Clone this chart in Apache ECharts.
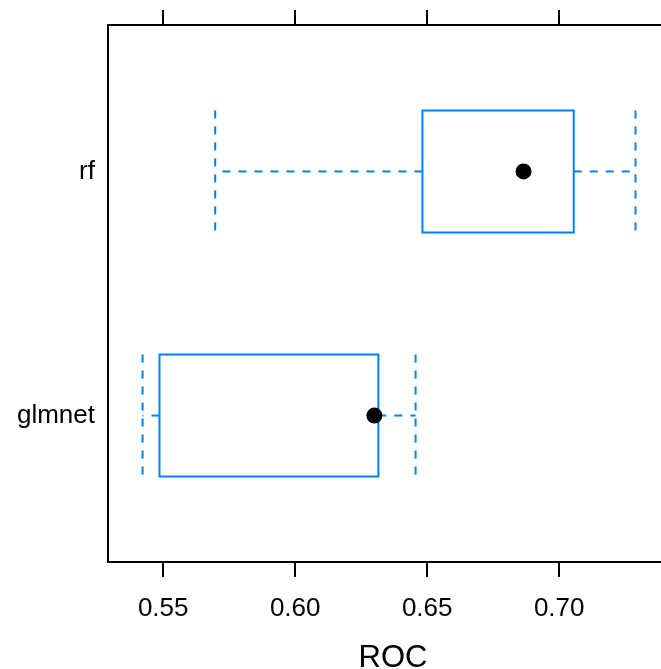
<!DOCTYPE html>
<html>
<head>
<meta charset="utf-8">
<script src="https://cdn.jsdelivr.net/npm/echarts@6/dist/echarts.min.js"></script>
<style>
  html, body { margin: 0; padding: 0; background: #fff; }
  #chart { width: 661px; height: 669px; }
</style>
</head>
<body>
<div id="chart"></div>
<script>
// resample summaries (bwplot of ROC)
const models = ['glmnet', 'rf'];
const minVals = [0.5422, 0.5697];
const q1Vals = [0.5486, 0.6482];
const medVals = [0.6300, 0.6865];
const q3Vals = [0.6315, 0.7055];
const maxVals = [0.6456, 0.7289];
const xTicks = [0.55, 0.60, 0.65, 0.70];

const boxColor = '#0080ff';

const data = models.map((m, i) => [i + 1, minVals[i], q1Vals[i], medVals[i], q3Vals[i], maxVals[i]]);

function renderBox(params, api) {
  const y = api.value(0);
  const lo = api.coord([api.value(1), y]);
  const q1 = api.coord([api.value(2), y]);
  const med = api.coord([api.value(3), y]);
  const q3 = api.coord([api.value(4), y]);
  const hi = api.coord([api.value(5), y]);
  const h = api.size([0, 0.25])[1];
  const cy = q1[1];
  const dash = { stroke: boxColor, lineWidth: 2, lineDash: [8, 8], fill: null };
  return {
    type: 'group',
    children: [
      // whiskers drawn from the box outwards
      { type: 'line', shape: { x1: q1[0], y1: cy, x2: lo[0], y2: cy }, style: dash },
      { type: 'line', shape: { x1: q3[0], y1: cy, x2: hi[0], y2: cy }, style: dash },
      { type: 'line', shape: { x1: lo[0], y1: cy - h, x2: lo[0], y2: cy + h }, style: dash },
      { type: 'line', shape: { x1: hi[0], y1: cy - h, x2: hi[0], y2: cy + h }, style: dash },
      {
        type: 'rect',
        shape: { x: q1[0], y: cy - h, width: q3[0] - q1[0], height: 2 * h },
        style: { stroke: boxColor, lineWidth: 2, fill: null }
      },
      { type: 'circle', shape: { cx: med[0], cy: cy, r: 8 }, style: { fill: '#000' } }
    ]
  };
}

const frameLine = { show: true, onZero: false, lineStyle: { color: '#000', width: 2 } };
const tickStyle = { show: true, length: 15, lineStyle: { color: '#000', width: 2 }, customValues: xTicks };

const chart = echarts.init(document.getElementById('chart'));
chart.setOption({
  backgroundColor: '#fff',
  animation: false,
  // the panel runs off the right edge, so no right border is drawn
  grid: {
    left: 108, top: 25, width: 570, height: 537,
    outerBoundsMode: 'none', containLabel: false, show: false
  },
  xAxis: [{
    type: 'value', position: 'bottom',
    min: 0.5291, max: 0.745,
    splitLine: { show: false },
    axisLine: frameLine,
    axisTick: tickStyle,
    axisLabel: {
      customValues: xTicks,
      margin: 34, fontSize: 26, color: '#000', fontFamily: 'Liberation Sans',
      formatter: v => v.toFixed(2)
    },
    name: 'ROC', nameLocation: 'middle', nameGap: 81,
    nameTextStyle: { fontSize: 31, color: '#000', fontFamily: 'Liberation Sans' }
  }, {
    type: 'value', position: 'top',
    min: 0.5291, max: 0.745,
    splitLine: { show: false },
    axisLine: frameLine,
    axisTick: tickStyle,
    axisLabel: { show: false }
  }],
  yAxis: {
    type: 'value', min: 0.4, max: 2.6,
    splitLine: { show: false },
    axisLine: frameLine,
    axisTick: { show: false },
    axisLabel: {
      customValues: [1, 2],
      margin: 13, fontSize: 26, color: '#000', fontFamily: 'Liberation Sans',
      formatter: v => models[Math.round(v) - 1]
    }
  },
  series: [{
    type: 'custom',
    renderItem: renderBox,
    encode: { x: [1, 2, 3, 4, 5], y: 0 },
    data: data,
    dimensions: ['y', 'min', 'q1', 'med', 'q3', 'max'],
    clip: false
  }]
});
</script>
</body>
</html>
